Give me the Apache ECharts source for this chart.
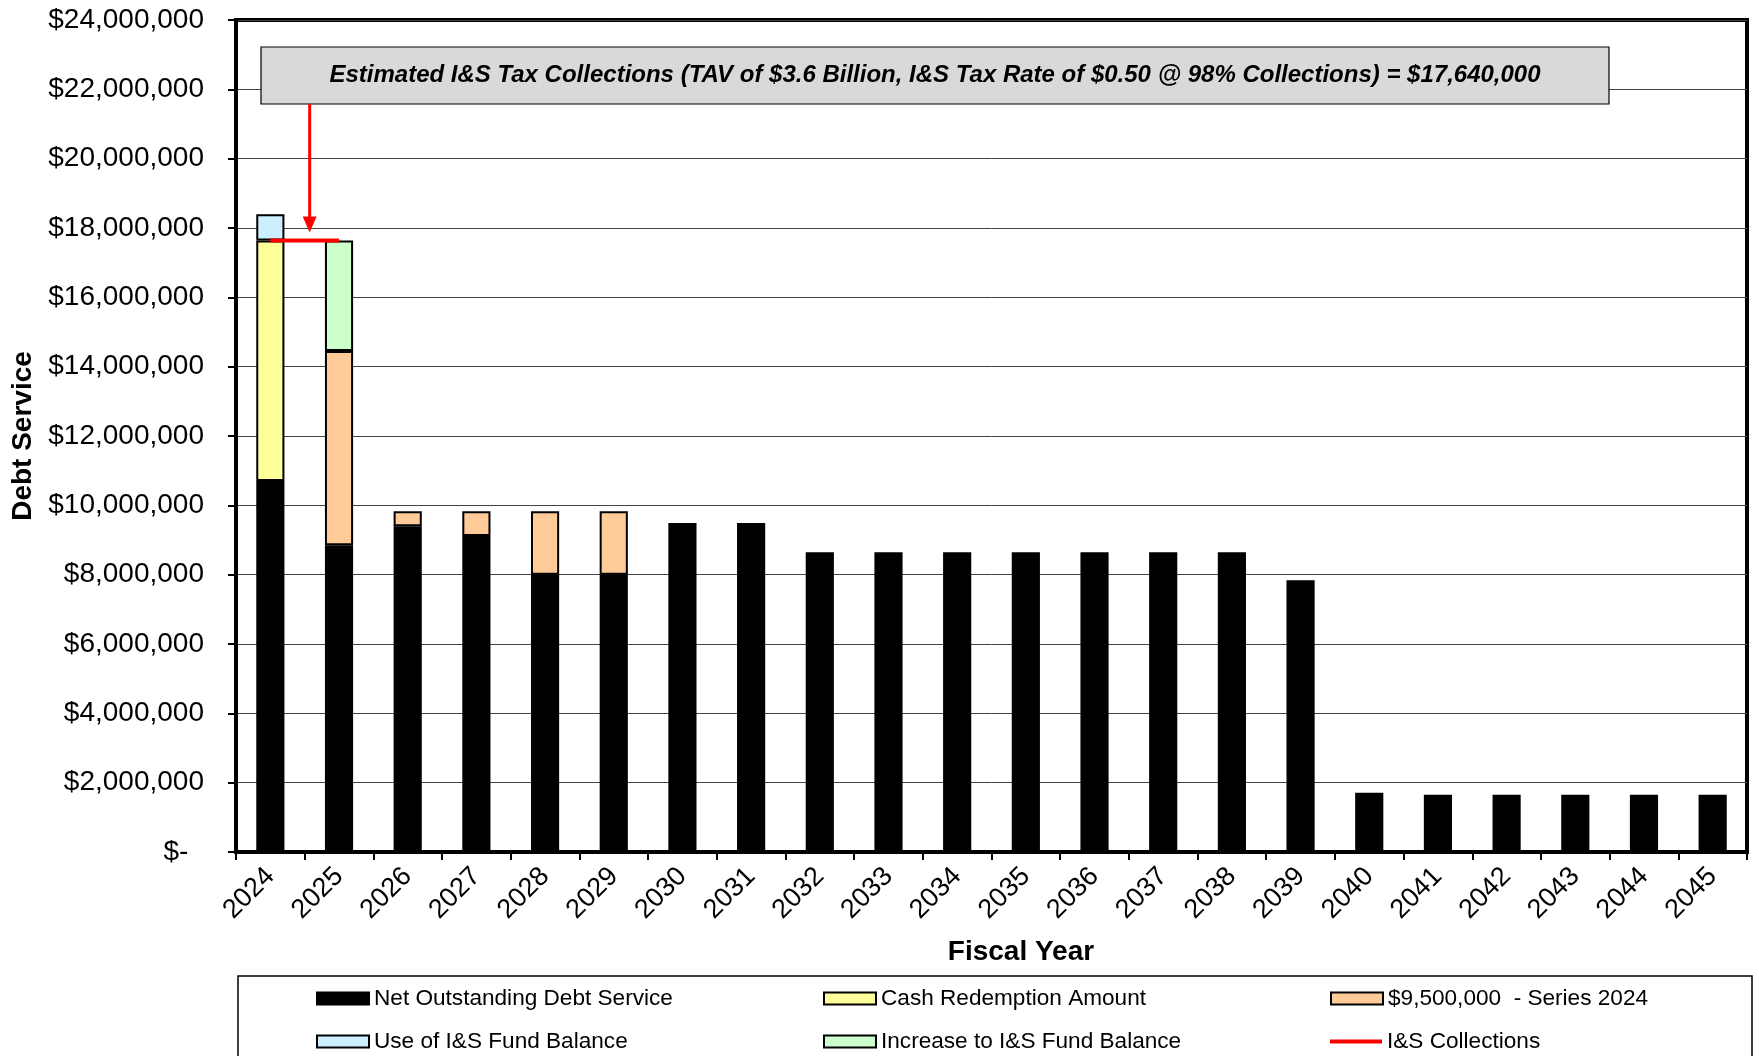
<!DOCTYPE html>
<html>
<head>
<meta charset="utf-8">
<script src="https://cdn.jsdelivr.net/npm/echarts@6/dist/echarts.min.js"></script>
<style>
  html, body { margin: 0; padding: 0; background: #fff; }
  #chart { width: 1759px; height: 1056px; }
</style>
</head>
<body>
<div id="chart"></div>
<script>
var years = ['2024','2025','2026','2027','2028','2029','2030','2031','2032','2033','2034',
             '2035','2036','2037','2038','2039','2040','2041','2042','2043','2044','2045'];

// values
var netDebt = [10700000, 8845000, 9400000, 9115000, 8000000, 8000000, 9490000, 9490000,
               8650000, 8650000, 8650000, 8650000, 8650000, 8650000, 8650000, 7840000,
               1710000, 1650000, 1650000, 1650000, 1650000, 1650000];
var cashRedemption = [6940000, '-', '-', '-', '-', '-', '-', '-', '-', '-', '-',
                      '-', '-', '-', '-', '-', '-', '-', '-', '-', '-', '-'];
var series2024 = ['-', 5605000, 430000, 715000, 1830000, 1830000, '-', '-', '-', '-', '-',
                  '-', '-', '-', '-', '-', '-', '-', '-', '-', '-', '-'];
var useFund = [755000, '-', '-', '-', '-', '-', '-', '-', '-', '-', '-',
               '-', '-', '-', '-', '-', '-', '-', '-', '-', '-', '-'];
var increaseFund = ['-', 3190000, '-', '-', '-', '-', '-', '-', '-', '-', '-',
                    '-', '-', '-', '-', '-', '-', '-', '-', '-', '-', '-'];
var collections = [17640000, 17640000, '-', '-', '-', '-', '-', '-', '-', '-', '-',
                   '-', '-', '-', '-', '-', '-', '-', '-', '-', '-', '-'];

var boxText = 'Estimated I&S Tax Collections (TAV of $3.6 Billion, I&S Tax Rate of $0.50 @ 98% Collections) = $17,640,000';

var FONT = '"Liberation Sans", Arial, sans-serif';

function money(v) {
  if (v === 0) return '$-  ';
  return '$' + v.toLocaleString('en-US');
}

function barSeries(name, data, color) {
  return {
    name: name,
    type: 'bar',
    stack: 'ds',
    data: data,
    barWidth: '41%',
    itemStyle: { color: color, borderColor: '#000', borderWidth: 2 },
    emphasis: { disabled: true }
  };
}

var chart = echarts.init(document.getElementById('chart'));

var option = {
  animation: false,
  textStyle: { fontFamily: FONT },
  grid: {
    left: 236, right: 12, top: 20, bottom: 204,
    outerBoundsMode: 'none', containLabel: false,
    show: true, borderColor: '#000', borderWidth: 4, backgroundColor: 'transparent'
  },
  legend: {
    left: 311, top: 982, width: 1530,
    itemWidth: 52, itemHeight: 12, itemGap: 20,
    icon: 'rect',
    textStyle: { fontFamily: FONT, fontSize: 22.6, color: '#000', width: 429, lineHeight: 22 },
    data: [
      'Net Outstanding Debt Service', 'Cash Redemption Amount', '$9,500,000  - Series 2024',
      'Use of I&S Fund Balance', 'Increase to I&S Fund Balance',
      { name: 'I&S Collections', icon: 'path://M0,0 L52,0 L52,4 L0,4 Z' }
    ]
  },
  xAxis: {
    type: 'category',
    data: years,
    name: 'Fiscal Year',
    nameLocation: 'middle',
    nameGap: 86,
    nameTextStyle: { fontFamily: FONT, fontSize: 28, fontWeight: 'bold', color: '#000', padding: [0, 0, 0, 59] },
    axisLine: { lineStyle: { color: '#000', width: 3 } },
    axisTick: { show: true, length: 8, lineStyle: { color: '#000', width: 2 } },
    axisLabel: { rotate: 45, margin: 20, fontSize: 27, color: '#000', fontFamily: FONT }
  },
  yAxis: {
    type: 'value',
    min: 0, max: 24000000, interval: 2000000,
    name: 'Debt Service',
    nameLocation: 'middle',
    nameGap: 199,
    nameTextStyle: { fontFamily: FONT, fontSize: 28, fontWeight: 'bold', color: '#000' },
    axisLine: { show: true, lineStyle: { color: '#000', width: 4 } },
    axisTick: { show: true, length: 8, lineStyle: { color: '#000', width: 2 } },
    axisLabel: { margin: 32, fontSize: 28, color: '#000', fontFamily: FONT, formatter: money },
    splitLine: { lineStyle: { color: '#444', width: 1 } }
  },
  series: [
    barSeries('Net Outstanding Debt Service', netDebt, '#000000'),
    barSeries('Cash Redemption Amount', cashRedemption, '#ffff99'),
    barSeries('$9,500,000  - Series 2024', series2024, '#ffcc99'),
    barSeries('Use of I&S Fund Balance', useFund, '#cceeff'),
    barSeries('Increase to I&S Fund Balance', increaseFund, '#ccffcc'),
    {
      name: 'I&S Collections',
      type: 'line',
      data: collections,
      symbol: 'none',
      z: 5,
      itemStyle: { color: '#ff0000' },
      lineStyle: { color: '#ff0000', width: 4 },
      emphasis: { disabled: true }
    }
  ]
};

chart.setOption(option);

// annotation box and arrow, placed from the chart's own scales
var p0 = chart.convertToPixel({ xAxisIndex: 0, yAxisIndex: 0 }, [0, collections[0]]);
var p1 = chart.convertToPixel({ xAxisIndex: 0, yAxisIndex: 0 }, [1, collections[1]]);
var ax = (p0[0] + p1[0]) / 2 + 5;
var tipY = p0[1] - 8;
var boxTop = 47, boxBottom = 104;

chart.setOption({
  graphic: [
    {
      type: 'rect',
      shape: { x: 261, y: boxTop, width: 1348, height: boxBottom - boxTop },
      style: { fill: '#d9d9d9', stroke: '#000', lineWidth: 1.2 },
      z: 10
    },
    {
      type: 'text',
      x: 935, y: (boxTop + boxBottom) / 2,
      style: {
        text: boxText, fontFamily: FONT, fontSize: 24, fontWeight: 'bold', fontStyle: 'italic',
        fill: '#000', align: 'center', verticalAlign: 'middle'
      },
      z: 11
    },
    {
      type: 'line',
      shape: { x1: ax, y1: boxBottom, x2: ax, y2: tipY - 14 },
      style: { stroke: '#ff0000', lineWidth: 3 },
      z: 10
    },
    {
      type: 'polygon',
      shape: { points: [[ax - 7, tipY - 16], [ax + 7, tipY - 16], [ax, tipY]] },
      style: { fill: '#ff0000' },
      z: 10
    },
    {
      type: 'rect',
      shape: { x: 238, y: 976, width: 1514, height: 100 },
      style: { fill: 'none', stroke: '#000', lineWidth: 1.5 },
      z: 0
    }
  ]
});
</script>
</body>
</html>
